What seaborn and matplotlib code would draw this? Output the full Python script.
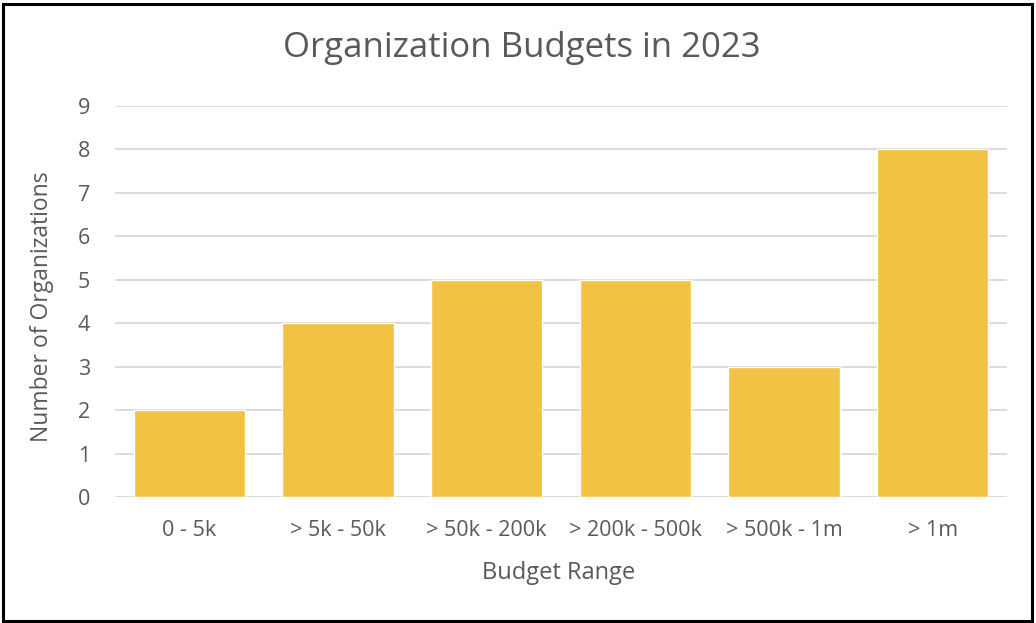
import matplotlib
matplotlib.use("Agg")
import matplotlib.pyplot as plt
import seaborn as sns
import pandas as pd
from matplotlib.patches import Rectangle

budget_ranges = ["0 - 5k", "> 5k - 50k", "> 50k - 200k", "> 200k - 500k", "> 500k - 1m", "> 1m"]
org_counts = [2, 4, 5, 5, 3, 8]
y_ticks = list(range(0, 10))

df = pd.DataFrame({"Budget Range": budget_ranges, "Number of Organizations": org_counts})

sns.set_theme(style="white")
plt.rcParams["font.family"] = ["Open Sans", "DejaVu Sans"]

text_color = "#595959"
bar_color = "#F2C243"
grid_color = "#D9D9D9"

fig = plt.figure(figsize=(10.36, 6.23), dpi=100)
ax = fig.add_axes([115 / 1036, 1 - 497 / 623, (1007 - 115) / 1036, (497 - 106) / 623])

sns.barplot(data=df, x="Budget Range", y="Number of Organizations", color=bar_color,
            saturation=1, width=0.75, ax=ax, zorder=3)

ax.set_ylim(0, 9)
ax.set_xlim(-0.5, len(budget_ranges) - 0.5)
ax.set_yticks(y_ticks)
for y in y_ticks:
    ax.axhline(y, color=grid_color, lw=1.3, zorder=1)

for s in ax.spines.values():
    s.set_visible(False)
ax.tick_params(axis="both", length=0, colors=text_color, labelsize=15.5)
ax.tick_params(axis="x", pad=16.5)
ax.tick_params(axis="y", pad=18)

ax.set_xlabel("Budget Range", color=text_color, fontsize=17, labelpad=0)
ax.set_ylabel("Number of Organizations", color=text_color, fontsize=16.5, labelpad=0)
ax.xaxis.set_label_coords(559 / 1036, 1 - 573 / 623, transform=fig.transFigure)
ax.yaxis.set_label_coords(42 / 1036, 1 - 307 / 623, transform=fig.transFigure)
ax.xaxis.label.set_va("center")
ax.yaxis.label.set_va("center")

fig.text(522 / 1036, 1 - 48 / 623, "Organization Budgets in 2023", ha="center", va="center",
         color=text_color, fontsize=25)

# Outer frame
fig.patches.append(Rectangle((3 / 1036, 2 / 623), 1029 / 1036, 617 / 623, transform=fig.transFigure,
                             fill=False, edgecolor="black", lw=2.2))

fig.savefig("out.png", dpi=100)
